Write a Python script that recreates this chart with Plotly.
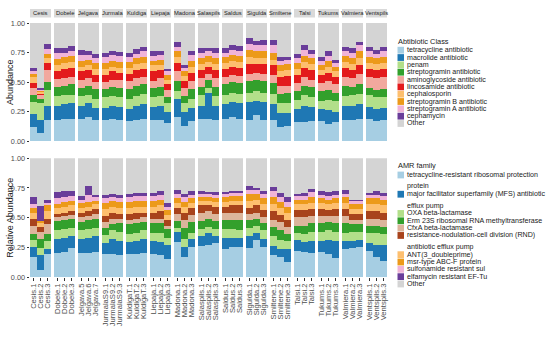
import plotly.graph_objects as go

# ---------------- data ----------------
sites = ["Cesis", "Dobele", "Jelgava", "Jurmala", "Kuldiga", "Liepaja", "Madona",
         "Salaspils", "Saldus", "Sigulda", "Smiltene", "Talsi", "Tukums", "Valmiera", "Ventspils"]
sample_labels = [
    "Cesis.1", "Cesis.2", "Cesis.3", "Dobele.1", "Dobele.2", "Dobele.3",
    "Jelgava.5", "Jelgava.6", "Jelgava.7", "JurmalaS9.1", "JurmalaS9.2", "JurmalaS9.3",
    "KuldigaT.1", "KuldigaT.2", "KuldigaT.3", "Liepaja.1", "Liepaja.2", "Liepaja.3",
    "Madona.1", "Madona.2", "Madona.3", "Salaspils.1", "Salaspils.2", "Salaspils.3",
    "Saldus.1", "Saldus.2", "Saldus.3", "Sigulda.1", "Sigulda.2", "Sigulda.3",
    "Smiltene.1", "Smiltene.2", "Smiltene.3", "Talsi.1", "Talsi.2", "Talsi.3",
    "Tukums.1", "Tukums.2", "Tukums.3", "Valmiera.1", "Valmiera.2", "Valmiera.3",
    "Ventspils.1", "Ventspils.2", "Ventspils.3"]

# Top panel: Abundance by antibiotic class (bottom -> top); "Other" fills up to 1
top_names = ["tetracycline antibiotic", "macrolide antibiotic", "penam", "streptogramin antibiotic",
             "aminoglycoside antibiotic", "lincosamide antibiotic", "cephalosporin",
             "streptogramin B antibiotic", "streptogramin A antibiotic", "cephamycin"]
top_colors = ["#a6cee3", "#1f78b4", "#b2df8a", "#33a02c", "#f2a89e", "#e31a1c",
              "#fdbf6f", "#ec9a1a", "#f0b4d8", "#6a3d9a"]
top_tetracycline = [.12, .07, .18, .18, .19, .19, .19, .20, .18, .18, .19, .18, .17, .18, .19,
                    .18, .18, .15, .20, .13, .17, .19, .19, .18, .19, .20, .19, .18, .22, .18,
                    .18, .12, .13, .16, .16, .17, .17, .14, .16, .18, .18, .19, .19, .17, .18]
top_macrolide = [.11, .11, .12, .12, .12, .13, .11, .12, .10, .10, .11, .11, .10, .12, .12,
                 .11, .12, .10, .16, .12, .11, .11, .22, .12, .12, .13, .13, .15, .12, .15,
                 .13, .12, .11, .11, .14, .12, .10, .12, .09, .12, .12, .12, .10, .10, .10]
top_penam = [.10, .14, .13, .08, .08, .07, .08, .07, .08, .09, .08, .08, .09, .08, .09,
             .08, .08, .07, .06, .07, .08, .09, .04, .08, .08, .08, .08, .08, .08, .08,
             .09, .08, .08, .08, .09, .08, .07, .09, .09, .08, .09, .09, .10, .10, .09]
top_streptogramin = [.06, .04, .07, .08, .08, .09, .07, .08, .08, .07, .08, .08, .08, .09, .08,
                     .08, .08, .05, .09, .06, .08, .07, .07, .08, .09, .09, .09, .10, .10, .10,
                     .09, .08, .09, .07, .08, .09, .08, .08, .07, .09, .07, .08, .06, .06, .07]
top_aminoglycoside = [.06, .03, .10, .066, .06, .06, .07, .06, .06, .06, .06, .07, .07, .06, .06,
                      .06, .07, .06, .08, .07, .07, .07, .05, .07, .06, .06, .06, .06, .06, .06,
                      .07, .07, .06, .07, .07, .06, .07, .08, .07, .07, .07, .09, .09, .10, .10]
top_lincosamide = [.04, .01, .06, .066, .08, .08, .07, .07, .06, .06, .07, .06, .06, .07, .07,
                   .08, .07, .05, .07, .06, .07, .07, .06, .07, .07, .07, .07, .08, .07, .08,
                   .08, .07, .08, .07, .08, .08, .07, .07, .06, .08, .07, .07, .07, .07, .07]
top_cephalosporin = [.05, .02, .04, .056, .05, .05, .04, .04, .05, .05, .04, .04, .05, .05, .05,
                     .05, .04, .04, .05, .04, .05, .05, .04, .05, .05, .05, .05, .06, .05, .05,
                     .05, .05, .05, .05, .05, .05, .04, .05, .05, .05, .05, .06, .05, .05, .05]
top_streptograminB = [.03, .01, .04, .048, .05, .05, .05, .05, .05, .05, .05, .05, .05, .05, .05,
                      .04, .05, .04, .05, .04, .05, .05, .05, .05, .05, .05, .05, .06, .06, .06,
                      .06, .05, .05, .05, .05, .05, .04, .05, .04, .05, .05, .06, .05, .05, .05]
top_streptograminA = [.02, .005, .04, .05, .04, .04, .05, .04, .04, .05, .05, .05, .04, .04, .05,
                      .04, .04, .03, .04, .03, .05, .05, .04, .05, .04, .04, .04, .05, .05, .05,
                      .06, .04, .04, .04, .05, .04, .04, .04, .03, .04, .05, .05, .05, .04, .05]
top_cephamycin = [.03, .015, .04, .04, .04, .046, .04, .033, .04, .036, .033, .035, .036, .037, .037,
                  .043, .033, .024, .04, .022, .033, .04, .03, .04, .04, .047, .046, .053, .038, .049,
                  .049, .033, .023, .037, .041, .035, .033, .04, .025, .037, .035, .03, .037, .03, .037]
top_series = [top_tetracycline, top_macrolide, top_penam, top_streptogramin, top_aminoglycoside,
              top_lincosamide, top_cephalosporin, top_streptograminB, top_streptograminA, top_cephamycin]

# Bottom panel: Relative abundance by AMR family (bottom -> top)
bot_names = ["tetracycline-resistant ribosomal protection protein",
             "major facilitator superfamily (MFS) antibiotic efflux pump",
             "OXA beta-lactamase", "Erm 23S ribosomal RNA methyltransferase", "CfxA beta-lactamase",
             "resistance-nodulation-cell division (RND) antibiotic efflux pump",
             "ANT(3_doubleprime)", "msr-type ABC-F protein", "sulfonamide resistant sul",
             "elfamycin resistant EF-Tu"]
bot_legend_lines = [["tetracycline-resistant ribosomal protection", "protein"],
                    ["major facilitator superfamily (MFS) antibiotic", "efflux pump"],
                    ["OXA beta-lactamase"], ["Erm 23S ribosomal RNA methyltransferase"],
                    ["CfxA beta-lactamase"],
                    ["resistance-nodulation-cell division (RND)", "antibiotic efflux pump"],
                    ["ANT(3_doubleprime)"], ["msr-type ABC-F protein"],
                    ["sulfonamide resistant sul"], ["elfamycin resistant EF-Tu"], ["Other"]]
bot_colors = ["#a6cee3", "#1f78b4", "#b2df8a", "#33a02c", "#dcb59c", "#a8431c",
              "#fdbf6f", "#ec9a1a", "#f0b4d8", "#6a3d9a"]
bot_tet = [.17, .06, .19, .20, .21, .24, .20, .20, .21, .19, .19, .18, .19, .19, .20,
           .19, .18, .15, .29, .17, .25, .26, .27, .28, .23, .25, .25, .24, .31, .25,
           .18, .17, .12, .22, .21, .20, .21, .19, .16, .23, .24, .25, .22, .17, .13]
bot_mfs = [.08, .12, .04, .12, .12, .10, .12, .13, .13, .09, .13, .12, .10, .11, .12,
           .11, .11, .12, .09, .08, .07, .08, .10, .06, .10, .08, .08, .10, .06, .07,
           .08, .06, .11, .09, .08, .10, .09, .12, .14, .07, .06, .06, .06, .10, .14]
bot_oxa = [.06, .06, .07, .07, .07, .07, .07, .07, .07, .07, .07, .08, .07, .07, .07,
           .07, .08, .06, .03, .07, .05, .06, .05, .06, .07, .07, .06, .07, .06, .07,
           .08, .08, .07, .06, .07, .08, .08, .08, .08, .07, .08, .07, .09, .10, .09]
bot_erm = [.05, .08, .06, .08, .08, .08, .07, .08, .08, .06, .05, .07, .08, .08, .07,
           .08, .08, .07, .06, .09, .09, .07, .07, .07, .08, .08, .09, .07, .06, .06,
           .08, .08, .06, .06, .07, .07, .07, .07, .07, .08, .06, .06, .06, .06, .06]
bot_cfxa = [.07, .06, .08, .03, .03, .03, .04, .03, .04, .05, .05, .04, .04, .04, .04,
            .04, .04, .03, .06, .07, .06, .07, .06, .06, .06, .06, .06, .05, .05, .05,
            .06, .07, .06, .07, .07, .06, .06, .05, .06, .06, .04, .04, .06, .06, .06]
bot_rnd = [.06, .04, .05, .03, .03, .03, .04, .04, .04, .05, .05, .04, .05, .05, .04,
           .05, .06, .05, .05, .06, .06, .06, .05, .06, .05, .06, .06, .05, .06, .06,
           .07, .06, .06, .06, .06, .06, .06, .05, .06, .06, .05, .05, .06, .06, .06]
bot_ant = [.05, .03, .06, .045, .05, .05, .04, .04, .04, .06, .05, .05, .05, .05, .05,
           .05, .05, .04, .04, .05, .04, .04, .04, .04, .04, .04, .04, .06, .05, .05,
           .06, .06, .06, .05, .05, .05, .05, .05, .05, .05, .04, .04, .06, .06, .06]
bot_msr = [.04, .02, .05, .04, .04, .04, .04, .04, .03, .05, .05, .05, .05, .05, .05,
           .05, .05, .04, .04, .04, .04, .03, .03, .03, .04, .04, .04, .06, .05, .05,
           .06, .05, .05, .04, .04, .05, .04, .04, .04, .05, .04, .04, .05, .05, .05]
bot_sul = [.03, .003, .02, .05, .04, .04, .03, .06, .03, .04, .03, .03, .04, .04, .04,
           .04, .04, .03, .04, .04, .03, .03, .03, .03, .03, .03, .03, .03, .03, .04,
           .05, .04, .04, .03, .03, .04, .03, .03, .03, .03, .03, .03, .03, .03, .03]
bot_eftu = [.058, .12, .03, .045, .05, .04, .027, .07, .02, .03, .027, .025, .027, .025, .025,
            .025, .035, .03, .03, .027, .03, .025, .013, .023, .013, .01, .015, .03, .017, .025,
            .035, .035, .043, .017, .025, .029, .03, .03, .03, .033, .005, .01, .015, .03, .025]
bot_series = [bot_tet, bot_mfs, bot_oxa, bot_erm, bot_cfxa, bot_rnd, bot_ant, bot_msr, bot_sul, bot_eftu]

other_color = "#d4d4d4"
y_ticks = [0, 0.25, 0.5, 0.75, 1.0]
y_ticktext = ["0.00", "0.25", "0.50", "0.75", "1.00"]

# ---------------- layout geometry ----------------
W, H = 550, 341
ML, MR, MT, MB = 30, 163, 23, 64
PW, PH = W - ML - MR, H - MT - MB


def px_x(x):
    return (x - ML) / PW


def px_y(y):
    return (H - MB - y) / PH


FONT = "Liberation Sans, Arial, Helvetica, sans-serif"
n_per = 3
period = n_per + 3 / 7
xpos = [(i // n_per) * period + (i % n_per) for i in range(len(sample_labels))]
xrange_ = [-0.5, (len(sites) - 1) * period + n_per - 0.5]

fig = go.Figure()


def add_stack(series, names, colors, xa, ya):
    for vals, nm, col in zip(series, names, colors):
        fig.add_trace(go.Bar(x=xpos, y=vals, name=nm, width=0.9, marker=dict(color=col, line=dict(width=0)),
                             xaxis=xa, yaxis=ya, showlegend=False))
    other = [max(0.0, 1 - sum(s[i] for s in series)) for i in range(len(xpos))]
    fig.add_trace(go.Bar(x=xpos, y=other, name="Other", width=0.9,
                         marker=dict(color=other_color, line=dict(width=0)),
                         xaxis=xa, yaxis=ya, showlegend=False))


add_stack(top_series, top_names, top_colors, "x", "y")
add_stack(bot_series, bot_names, bot_colors, "x2", "y2")

shapes, annotations = [], []

# facet strips (top panel)
for f, s in enumerate(sites):
    x0 = f * period - 0.5
    x1 = x0 + n_per
    shapes.append(dict(type="rect", xref="x", yref="paper", x0=x0, x1=x1,
                       y0=px_y(17.5), y1=px_y(9), fillcolor="#d9d9d9", line=dict(width=0), layer="below"))
    annotations.append(dict(xref="x", yref="paper", x=(x0 + x1) / 2, y=px_y(13.2), text=s, showarrow=False,
                            font=dict(size=5.8, color="#1a1a1a", family=FONT), xanchor="center", yanchor="middle"))

# axis titles
annotations.append(dict(xref="paper", yref="paper", x=px_x(10), y=px_y(82), text="Abundance", textangle=-90,
                        showarrow=False, font=dict(size=9, color="#1a1a1a", family=FONT),
                        xanchor="center", yanchor="middle"))
annotations.append(dict(xref="paper", yref="paper", x=px_x(10), y=px_y(217.7), text="Relative Abundance",
                        textangle=-90, showarrow=False, font=dict(size=9, color="#1a1a1a", family=FONT),
                        xanchor="center", yanchor="middle"))

LEG_FS = 7.1
SW_X0, SW_X1, TXT_X = 397.5, 404.0, 405.5


def legend_item(ypix, color, lines):
    shapes.append(dict(type="rect", xref="paper", yref="paper", x0=px_x(SW_X0), x1=px_x(SW_X1),
                       y0=px_y(ypix + 3.4), y1=px_y(ypix - 3.4), fillcolor=color, line=dict(width=0)))
    for k, ln in enumerate(lines):
        annotations.append(dict(xref="paper", yref="paper", x=px_x(TXT_X), y=px_y(ypix + 11.3 * k), text=ln,
                                showarrow=False, xanchor="left", yanchor="middle", borderpad=0,
                                font=dict(size=LEG_FS, color="#1a1a1a", family=FONT)))


# top legend
annotations.append(dict(xref="paper", yref="paper", x=px_x(396.5), y=px_y(41.5), text="Abtibiotic Class",
                        showarrow=False, xanchor="left", yanchor="middle",
                        font=dict(size=7.4, color="#1a1a1a", family=FONT)))
for k, (nm, col) in enumerate(zip(top_names + ["Other"], top_colors + [other_color])):
    legend_item(50.2 + 7.33 * k, col, [nm])

# bottom legend
annotations.append(dict(xref="paper", yref="paper", x=px_x(396.5), y=px_y(165.7), text="AMR family",
                        showarrow=False, xanchor="left", yanchor="middle",
                        font=dict(size=7.4, color="#1a1a1a", family=FONT)))
ycur = 175.0
for lines, col in zip(bot_legend_lines, bot_colors + [other_color]):
    legend_item(ycur, col, lines)
    ycur += 7.33 + 11.9 * (len(lines) - 1)

axis_common = dict(range=xrange_, showgrid=False, zeroline=False, showline=False, automargin=False)
yaxis_common = dict(range=[0, 1], tickvals=y_ticks, ticktext=y_ticktext, showgrid=False, zeroline=False,
                    showline=False, ticks="outside", ticklen=2.5, tickwidth=0.6, tickcolor="#333333",
                    tickfont=dict(size=7.3, color="#4d4d4d", family=FONT), automargin=False)

fig.update_layout(
    width=W, height=H, template="none", barmode="stack", bargap=0,
    margin=dict(l=ML, r=MR, t=MT, b=MB, pad=0),
    paper_bgcolor="white", plot_bgcolor="white", showlegend=False,
    font=dict(family=FONT),
    xaxis=dict(domain=[0, 1], anchor="y", showticklabels=False, ticks="", **axis_common),
    xaxis2=dict(domain=[0, 1], anchor="y2", tickvals=xpos, ticktext=sample_labels, tickangle=-90,
                ticks="outside", ticklen=2.5, tickwidth=0.6, tickcolor="#333333",
                tickfont=dict(size=7.6, color="#4d4d4d", family=FONT), **axis_common),
    yaxis=dict(domain=[px_y(141), 1], anchor="x", **yaxis_common),
    yaxis2=dict(domain=[0, px_y(158.3)], anchor="x2", **yaxis_common),
    shapes=shapes, annotations=annotations,
)

fig.write_html("out.html", config={"displayModeBar": False},
               post_script="document.body.style.margin='0';document.body.style.overflow='hidden';")
